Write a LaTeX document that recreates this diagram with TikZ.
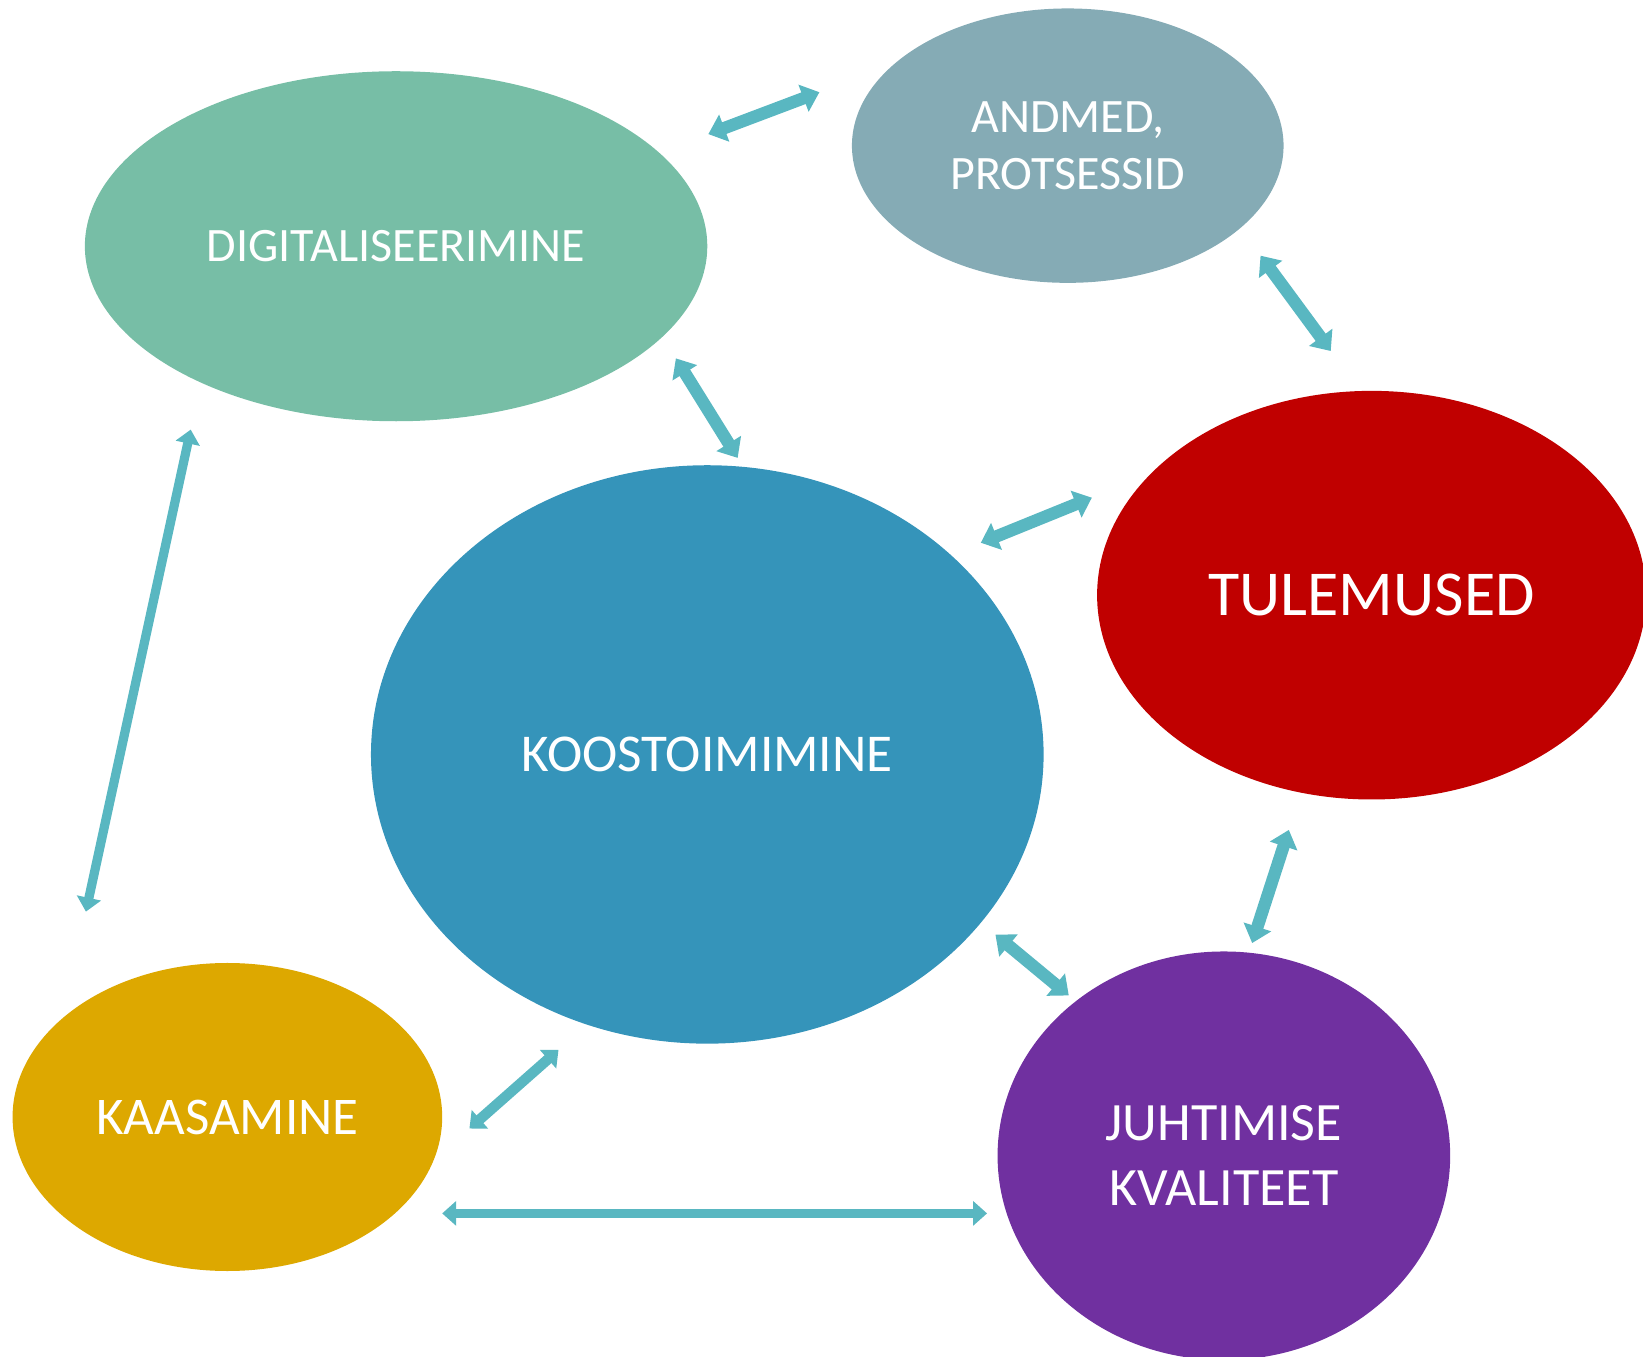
\documentclass[tikz,border=0pt]{standalone}
\usepackage{fontspec}
\setmainfont{Carlito}
\usetikzlibrary{arrows.meta, shapes.geometric}

\definecolor{digiroheline}{HTML}{77BEA6}
\definecolor{andmehall}{HTML}{85ABB5}
\definecolor{tulempunane}{HTML}{C00000}
\definecolor{koostsinine}{HTML}{3594BA}
\definecolor{kaaskollane}{HTML}{DDA800}
\definecolor{juhtlilla}{HTML}{7030A0}
\definecolor{noolevarv}{HTML}{59B7C1}

\begin{document}
\begin{tikzpicture}[
    x=0.5239pt, y=-0.5239pt,
    mull/.style = {ellipse, inner sep=0pt, text=white, align=center},
    pil/.style = {noolevarv, line width=6.2pt,
                  {Triangle[width=14pt, length=8.5pt]}-{Triangle[width=14pt, length=8.5pt]}},
    peenpil/.style = {pil, line width=4.6pt,
                  {Triangle[width=12pt, length=7pt]}-{Triangle[width=12pt, length=7pt]}},
    font=\fontsize{26.5pt}{30pt}\selectfont
    ]

  \clip (0,0) rectangle (1568,1295);

  \node[mull, fill=digiroheline, minimum width=311.2pt, minimum height=175pt,
        font=\fontsize{24pt}{28pt}\selectfont] (digi) at (378,235) {DIGITALISEERIMINE};
  \node[mull, fill=andmehall, minimum width=215.8pt, minimum height=137.2pt,
        font=\fontsize{24pt}{28.3pt}\selectfont] (andmed) at (1019,139) {ANDMED,\\PROTSESSID};
  \node[mull, fill=tulempunane, minimum width=274.5pt, minimum height=204.3pt,
        font=\fontsize{32pt}{36pt}\selectfont] (tulem) at (1309,568) {TULEMUSED};
  \node[mull, fill=koostsinine, minimum width=336.3pt, minimum height=289.2pt,
        font=\fontsize{26.6pt}{30pt}\selectfont] (koost) at (675,720) {KOOSTOIMIMINE};
  \node[mull, fill=kaaskollane, minimum width=214.8pt, minimum height=154pt,
        font=\fontsize{26.5pt}{30pt}\selectfont] (kaas) at (217,1066) {KAASAMINE};
  \node[mull, fill=juhtlilla, minimum width=226.3pt, minimum height=204.3pt,
        font=\fontsize{27pt}{32.5pt}\selectfont] (juht) at (1168,1103) {JUHTIMISE\\KVALITEET};

  % noolte otsad
  \coordinate (digi-a) at (676,128);   \coordinate (andmed-d) at (782,88);
  \coordinate (andmed-t) at (1203,244); \coordinate (tulem-a) at (1270,335);
  \coordinate (digi-k) at (645,342);   \coordinate (koost-d) at (704,437);
  \coordinate (koost-t) at (936,518);  \coordinate (tulem-k) at (1042,475);
  \coordinate (digi-kaas) at (182,410); \coordinate (kaas-d) at (82,870);
  \coordinate (tulem-j) at (1230,792); \coordinate (juht-t) at (1195,900);
  \coordinate (koost-j) at (950,892);  \coordinate (juht-k) at (1020,950);
  \coordinate (kaas-k) at (448,1077);  \coordinate (koost-kaas) at (533,1002);
  \coordinate (kaas-j) at (422,1158);  \coordinate (juht-kaas) at (942,1158);

  \draw[pil] (digi-a) -- (andmed-d);
  \draw[pil] (andmed-t) -- (tulem-a);
  \draw[pil] (digi-k) -- (koost-d);
  \draw[pil] (koost-t) -- (tulem-k);
  \draw[pil] (tulem-j) -- (juht-t);
  \draw[pil] (koost-j) -- (juht-k);
  \draw[peenpil] (digi-kaas) -- (kaas-d);
  \draw[peenpil, line width=5.2pt] (kaas-k) -- (koost-kaas);
  \draw[peenpil] (kaas-j) -- (juht-kaas);
\end{tikzpicture}
\end{document}
